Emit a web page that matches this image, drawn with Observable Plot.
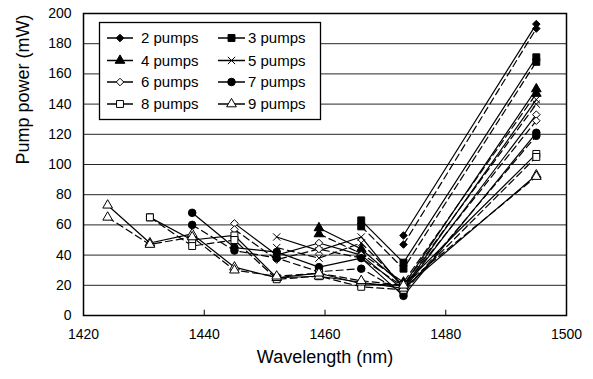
<!DOCTYPE html>
<html><head><meta charset="utf-8">
<script src="https://cdn.jsdelivr.net/npm/d3@7"></script>
<script src="https://cdn.jsdelivr.net/npm/@observablehq/plot@0.6"></script>
<style>
body{margin:0;background:#fff;font-family:"Liberation Sans",Arial,sans-serif;}
#wrap{position:relative;width:593px;height:379px;}
#legend{position:absolute;left:0;top:0;}
</style></head><body><div id="wrap"></div>
<script>
// Data
const wavelengths = [1424, 1431, 1438, 1445, 1452, 1459, 1466, 1473, 1495];
const pumpCounts = [2, 3, 4, 5, 6, 7, 8, 9];
const seriesLabels = ["2 pumps", "3 pumps", "4 pumps", "5 pumps", "6 pumps", "7 pumps", "8 pumps", "9 pumps"];
const xTicks = [1420, 1440, 1460, 1480, 1500];
const yTicks = [0, 20, 40, 60, 80, 100, 120, 140, 160, 180, 200];

const solid2 = [53, 193];
const dashed2 = [47, 190];
const solid3 = [63, 35, 171];
const dashed3 = [59, 31, 168];
const solid4 = [58, 44, 20, 150];
const dashed4 = [54, 41, 22, 147];
const solid5 = [52, 43, 52, 18, 143];
const dashed5 = [45, 38, 48, 20, 140];
const solid6 = [61, 40, 48, 40, 17, 133];
const dashed6 = [57, 37, 44, 38, 19, 129];
const solid7 = [68, 45, 42, 32, 38, 13, 121];
const dashed7 = [60, 43, 38, 29, 31, 15, 119];
const solid8 = [65, 50, 53, 25, 28, 21, 20, 107];
const dashed8 = [65, 46, 50, 24, 26, 19, 17, 105];
const solid9 = [73, 48, 54, 32, 25, 26, 22, 18, 93];
const dashed9 = [65, 47, 52, 30, 26, 28, 23, 20, 92];

const solidValues = [solid2, solid3, solid4, solid5, solid6, solid7, solid8, solid9];
const dashedValues = [dashed2, dashed3, dashed4, dashed5, dashed6, dashed7, dashed8, dashed9];

// Styles
const symbols = ["diamond2", "square", "triangle", "times", "diamond2", "circle", "square", "triangle"];
const fills = ["black", "black", "black", "none", "white", "black", "white", "white"];
const radii = [3.4, 3.9, 3.6, 3.4, 3.4, 3.8, 3.9, 3.6];

const rows = [];
pumpCounts.forEach((n, i) => {
  const xs = wavelengths.slice(wavelengths.length - n);
  solidValues[i].forEach((v, k) => rows.push({n, style: "solid", x: xs[k], y: v}));
  dashedValues[i].forEach((v, k) => rows.push({n, style: "dashed", x: xs[k], y: v}));
});

const chart = Plot.plot({
  width: 593, height: 379,
  marginLeft: 83, marginRight: 27, marginTop: 13, marginBottom: 64,
  style: {fontFamily: "'Liberation Sans', Arial, sans-serif", fontSize: "14px", color: "#000", background: "#fff"},
  x: {domain: [1420, 1500]},
  y: {domain: [0, 200]},
  marks: [
    Plot.gridY(yTicks.slice(1, -1), {stroke: "#000", strokeOpacity: 0.85, strokeWidth: 1}),
    Plot.ruleX(xTicks.slice(1, -1), {y1: 0, y2: 3.5, stroke: "#000"}),
    Plot.line(rows.filter(d => d.style === "solid"), {x: "x", y: "y", z: "n", stroke: "#000", strokeWidth: 1.2}),
    Plot.line(rows.filter(d => d.style === "dashed"), {x: "x", y: "y", z: "n", stroke: "#000", strokeWidth: 1.2, strokeDasharray: "7,4"}),
    ...pumpCounts.map((n, i) => Plot.dot(rows.filter(d => d.n === n), {
      x: "x", y: "y", symbol: symbols[i], r: radii[i],
      fill: fills[i], stroke: "#000", strokeWidth: 1
    })),
    Plot.frame({stroke: "#000", strokeWidth: 1.5}),
    Plot.axisX({ticks: xTicks, tickFormat: d => String(d), tickSize: 0, tickPadding: 14, fontSize: 14, label: null}),
    Plot.axisY({ticks: yTicks, tickFormat: d => String(d), tickSize: 0, tickPadding: 12, fontSize: 14, label: null}),
    Plot.text(["Pump power (mW)"], {frameAnchor: "left", dx: -60, rotate: -90, fontSize: 18}),
    Plot.text(["Wavelength (nm)"], {frameAnchor: "bottom", dy: 47, fontSize: 18})
  ]
});
const wrap = document.getElementById("wrap");
wrap.appendChild(chart);

// Legend overlay
const lg = d3.select(wrap).append("svg").attr("id", "legend")
  .attr("width", 593).attr("height", 379)
  .style("font-family", "'Liberation Sans', Arial, sans-serif");
lg.append("rect").attr("x", 99.5).attr("y", 22.5).attr("width", 221).attr("height", 97)
  .attr("fill", "#fff").attr("stroke", "#000").attr("stroke-width", 1.3);
const rowsY = [38, 60.5, 82, 104];
const colLine = [[107, 133], [218, 245]];
const colText = [141, 248];
const shapes = {diamond2: d3.symbolDiamond2, square: d3.symbolSquare, triangle: d3.symbolTriangle, times: d3.symbolTimes, circle: d3.symbolCircle};
seriesLabels.forEach((label, i) => {
  const c = i % 2, r = Math.floor(i / 2);
  const y = rowsY[r];
  const [x1, x2] = colLine[c];
  lg.append("line").attr("x1", x1).attr("x2", x2).attr("y1", y).attr("y2", y)
    .attr("stroke", "#000").attr("stroke-width", 1.5);
  const rr = radii[i];
  lg.append("path").attr("transform", `translate(${(x1 + x2) / 2},${y})`)
    .attr("d", d3.symbol(shapes[symbols[i]], rr * rr * Math.PI)())
    .attr("fill", fills[i]).attr("stroke", "#000").attr("stroke-width", 1);
  lg.append("text").attr("x", colText[c]).attr("y", y).attr("dy", "0.35em")
    .attr("font-size", 15).text(label);
});
</script></body></html>
